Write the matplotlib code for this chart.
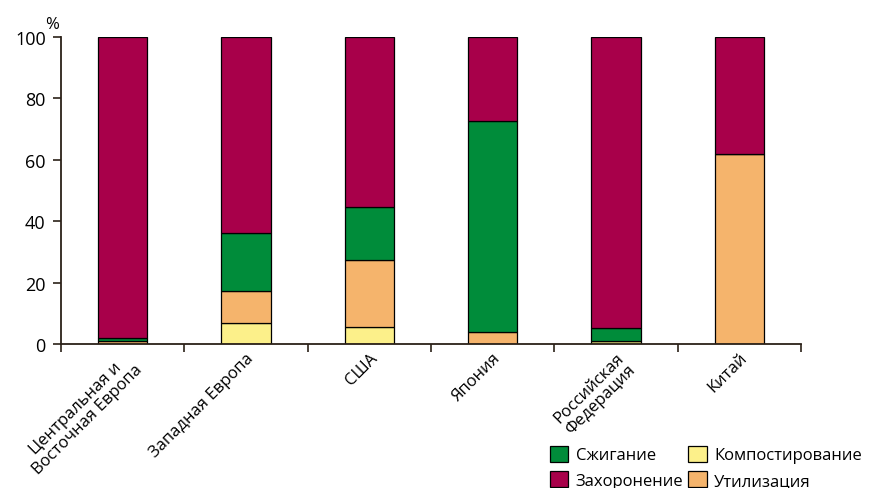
import numpy as np
import matplotlib.pyplot as plt

plt.rcParams['font.family'] = ['Open Sans', 'DejaVu Sans']
plt.rcParams['font.size'] = 13

regions = ["Центральная и\nВосточная Европа", "Западная Европа", "США",
           "Япония", "Российская\nФедерация", "Китай"]
compost = [0.0, 6.7, 5.6, 0.0, 1.1, 0.0]
utilization = [1.0, 10.6, 21.8, 4.0, 0.0, 61.9]
incineration = [1.0, 18.9, 17.2, 68.6, 4.0, 0.0]
landfill = [98.0, 63.8, 55.4, 27.4, 94.9, 38.1]

c_green = "#008C3A"
c_crimson = "#A8004A"
c_yellow = "#FCF08A"
c_orange = "#F5B46C"
axis_col = "#2b2118"

fig = plt.figure(figsize=(8.7, 4.89), dpi=100)
ax = fig.add_axes([0.0701, 0.2945, 0.8506, 0.6278])

x = np.arange(len(regions))
w = 0.4
kw = dict(width=w, edgecolor="black", linewidth=0.9)
b0 = np.zeros(len(regions))
h_comp = ax.bar(x, compost, bottom=b0, color=c_yellow, **kw)
b0 = b0 + compost
h_util = ax.bar(x, utilization, bottom=b0, color=c_orange, **kw)
b0 = b0 + utilization
h_inc = ax.bar(x, incineration, bottom=b0, color=c_green, **kw)
b0 = b0 + incineration
h_land = ax.bar(x, landfill, bottom=b0, color=c_crimson, **kw)

ax.set_xlim(-0.5, len(regions) - 0.5)
ax.set_ylim(0, 100)
ax.set_yticks(range(0, 101, 20))
ax.set_xticks(x)
ax.set_xticklabels(regions, rotation=45, ha="right", rotation_mode="anchor",
                   ma="center", fontsize=12, linespacing=1.0)
ax.set_xticks(np.arange(-0.5, len(regions)), minor=True)
ax.tick_params(axis="x", which="major", length=0, pad=4)
ax.tick_params(axis="x", which="minor", length=6, color=axis_col, width=1.2)
ax.tick_params(axis="y", length=6, color=axis_col, width=1.2, pad=5)

for s in ["top", "right"]:
    ax.spines[s].set_visible(False)
for s in ["left", "bottom"]:
    ax.spines[s].set_color(axis_col)
    ax.spines[s].set_linewidth(1.3)

ax.text(-0.012, 1.015, "%", transform=ax.transAxes, ha="center", va="bottom",
        fontsize=12)

fig.legend([h_inc, h_land, h_comp, h_util],
           ["Сжигание", "Захоронение", "Компостирование", "Утилизация"],
           ncol=2, loc="lower right", bbox_to_anchor=(1.008, -0.032),
           frameon=False, fontsize=12, handlelength=1.1, handleheight=1.1,
           handletextpad=0.45, columnspacing=0.3, labelspacing=0.45)

fig.savefig("out.png", dpi=100)
